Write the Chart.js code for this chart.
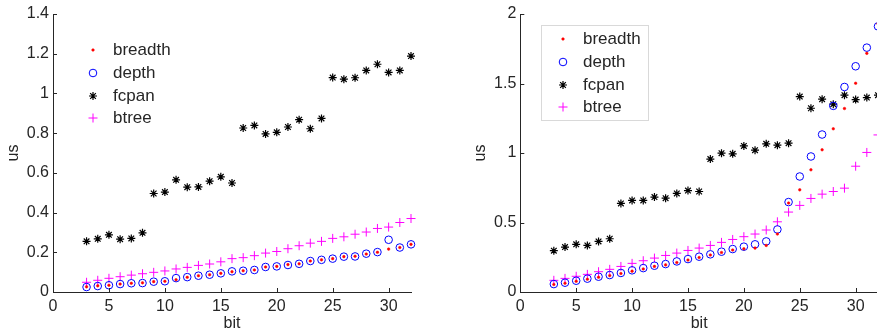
<!DOCTYPE html>
<html lang="en">
<head>
    <meta charset="UTF-8">
    <title>bit vs us</title>
    <script src="https://cdn.jsdelivr.net/npm/chart.js@4.4.0/dist/chart.umd.min.js"></script>
    <style>
        body {
            margin: 0;
            background: #fff;
            overflow: hidden;
            width: 877px;
            height: 333px;
            position: relative;
        }
        .panel {
            position: absolute;
            top: 0;
            height: 333px;
        }
        #leftPanel { left: 0; width: 440px; }
        #rightPanel { left: 440px; width: 460px; }
    </style>
</head>
<body>
    <div class="panel" id="leftPanel"><canvas id="leftChart"></canvas></div>
    <div class="panel" id="rightPanel"><canvas id="rightChart"></canvas></div>

    <script>
        const bits = [3, 4, 5, 6, 7, 8, 9, 10, 11, 12, 13, 14, 15, 16, 17, 18, 19, 20,
                      21, 22, 23, 24, 25, 26, 27, 28, 29, 30, 31, 32];
        const seriesNames = ['breadth', 'depth', 'fcpan', 'btree'];

        // left panel
        const leftBreadth = [0.026, 0.031, 0.034, 0.040, 0.044, 0.046, 0.052, 0.054, 0.062, 0.074,
                             0.082, 0.087, 0.094, 0.102, 0.107, 0.111, 0.126, 0.129, 0.138, 0.142,
                             0.156, 0.162, 0.168, 0.178, 0.180, 0.191, 0.200, 0.216, 0.224, 0.240];
        const leftDepth = [0.025, 0.030, 0.034, 0.040, 0.044, 0.045, 0.052, 0.054, 0.070, 0.075,
                           0.082, 0.087, 0.094, 0.104, 0.107, 0.111, 0.126, 0.129, 0.136, 0.142,
                           0.156, 0.162, 0.168, 0.178, 0.179, 0.193, 0.201, 0.263, 0.224, 0.240];
        const leftFcpan = [0.255, 0.268, 0.288, 0.266, 0.270, 0.298, 0.496, 0.503, 0.565, 0.528,
                           0.529, 0.558, 0.580, 0.549, 0.826, 0.839, 0.796, 0.804, 0.831, 0.868,
                           0.822, 0.874, 1.080, 1.072, 1.079, 1.116, 1.147, 1.106, 1.116, 1.188];
        const leftBtree = [0.049, 0.059, 0.069, 0.077, 0.085, 0.092, 0.099, 0.106, 0.116, 0.124,
                           0.134, 0.141, 0.152, 0.168, 0.173, 0.183, 0.196, 0.204, 0.218, 0.233,
                           0.246, 0.255, 0.270, 0.278, 0.291, 0.302, 0.320, 0.327, 0.350, 0.370];
        const leftTicks = [0, 0.2, 0.4, 0.6, 0.8, 1, 1.2, 1.4];

        // right panel
        const rightBreadth = [0.054, 0.063, 0.077, 0.092, 0.106, 0.118, 0.133, 0.150, 0.166, 0.184,
                              0.195, 0.212, 0.230, 0.248, 0.266, 0.284, 0.302, 0.311, 0.316, 0.335,
                              0.417, 0.640, 0.735, 0.879, 1.023, 1.174, 1.320, 1.502, 1.717, 1.930];
        const rightDepth = [0.057, 0.067, 0.081, 0.096, 0.110, 0.122, 0.137, 0.156, 0.172, 0.189,
                            0.201, 0.220, 0.237, 0.254, 0.271, 0.290, 0.309, 0.326, 0.343, 0.364,
                            0.450, 0.647, 0.831, 0.975, 1.133, 1.339, 1.475, 1.624, 1.758, 1.911];
        const rightFcpan = [0.297, 0.323, 0.343, 0.335, 0.364, 0.383, 0.637, 0.659, 0.659, 0.683,
                            0.675, 0.709, 0.730, 0.723, 0.956, 0.999, 0.994, 1.051, 1.020, 1.066,
                            1.056, 1.071, 1.406, 1.322, 1.387, 1.351, 1.416, 1.384, 1.399, 1.416];
        const rightBtree = [0.084, 0.098, 0.113, 0.127, 0.146, 0.163, 0.184, 0.206, 0.225, 0.244,
                            0.263, 0.280, 0.299, 0.316, 0.335, 0.357, 0.378, 0.398, 0.417, 0.446,
                            0.505, 0.575, 0.623, 0.673, 0.704, 0.723, 0.747, 0.905, 1.004, 1.130];
        const rightTicks = [0, 0.5, 1, 1.5, 2];

        const xTicks = [0, 5, 10, 15, 20, 25, 30];
        const textColor = '#262626';
        const fontFamily = '"Liberation Sans", Arial, Helvetica, sans-serif';

        // marker look for each series (MATLAB '.', 'o', '*', '+')
        const markers = [
            { pointStyle: 'circle', radius: 1.3, color: '#ff0000', fill: '#ff0000', borderWidth: 0.5 },
            { pointStyle: 'circle', radius: 3.8, color: '#0000ff', fill: 'rgba(0,0,0,0)', borderWidth: 1 },
            { pointStyle: 'star', radius: 4, color: '#000000', fill: '#000000', borderWidth: 1.2 },
            { pointStyle: 'cross', radius: 4.5, color: '#ff00ff', fill: '#ff00ff', borderWidth: 1 }
        ];

        function makeDatasets(values) {
            return values.map((vals, i) => ({
                label: seriesNames[i],
                data: bits.map((b, j) => ({ x: b, y: vals[j] })),
                showLine: false,
                pointStyle: markers[i].pointStyle,
                pointRadius: markers[i].radius,
                pointHoverRadius: markers[i].radius,
                pointBorderWidth: markers[i].borderWidth,
                borderColor: markers[i].color,
                backgroundColor: markers[i].fill,
                clip: false
            }));
        }

        // inward tick marks like MATLAB
        const innerTicks = {
            id: 'innerTicks',
            afterDraw(chart) {
                const ctx = chart.ctx;
                const x = chart.scales.x, y = chart.scales.y;
                ctx.save();
                ctx.strokeStyle = textColor;
                ctx.lineWidth = 1;
                ctx.beginPath();
                x.ticks.forEach(t => {
                    const px = Math.round(x.getPixelForValue(t.value)) + 0.5;
                    ctx.moveTo(px, y.bottom);
                    ctx.lineTo(px, y.bottom - 4);
                });
                y.ticks.forEach(t => {
                    const py = Math.round(y.getPixelForValue(t.value)) + 0.5;
                    ctx.moveTo(x.left, py);
                    ctx.lineTo(x.left + 4, py);
                });
                ctx.stroke();
                ctx.restore();
            }
        };

        // legend drawn inside the axes
        const innerLegend = {
            id: 'innerLegend',
            afterDraw(chart, args, opts) {
                const ctx = chart.ctx;
                ctx.save();
                if (opts.box) {
                    ctx.strokeStyle = '#d9d9d9';
                    ctx.lineWidth = 1;
                    ctx.fillStyle = '#ffffff';
                    ctx.fillRect(opts.box[0], opts.box[1], opts.box[2], opts.box[3]);
                    ctx.strokeRect(opts.box[0] + 0.5, opts.box[1] + 0.5, opts.box[2], opts.box[3]);
                }
                seriesNames.forEach((name, i) => {
                    const m = markers[i];
                    const yy = opts.rows[i];
                    ctx.strokeStyle = m.color;
                    ctx.fillStyle = m.fill;
                    ctx.lineWidth = m.borderWidth;
                    Chart.helpers.drawPoint(ctx, {
                        pointStyle: m.pointStyle, radius: m.radius, rotation: 0, borderWidth: m.borderWidth
                    }, opts.markerX, yy);
                    ctx.fillStyle = textColor;
                    ctx.font = '17px ' + fontFamily;
                    ctx.textBaseline = 'middle';
                    ctx.textAlign = 'left';
                    ctx.fillText(name, opts.textX, yy);
                });
                ctx.restore();
            }
        };

        function makeOptions(yMax, yTicks, padLeft, axisWidth, legendOpts) {
            return {
                responsive: true,
                maintainAspectRatio: false,
                animation: false,
                events: [],
                layout: { padding: { left: padLeft, top: 14, right: legendOpts.padRight, bottom: 0 } },
                plugins: {
                    legend: { display: false },
                    tooltip: { enabled: false },
                    innerLegend: legendOpts
                },
                scales: {
                    x: {
                        type: 'linear',
                        min: 0,
                        max: 32,
                        afterFit: s => { s.height = 41; },
                        afterBuildTicks: s => { s.ticks = xTicks.map(v => ({ value: v })); },
                        grid: { display: true, drawOnChartArea: false, drawTicks: false },
                        border: { display: true, color: textColor, width: 1 },
                        ticks: { color: textColor, padding: 5, font: { size: 16, family: fontFamily },
                                 maxRotation: 0, callback: v => String(v) },
                        title: { display: true, text: 'bit', color: textColor, padding: { top: 0, bottom: 0 },
                                 font: { size: 16, family: fontFamily } }
                    },
                    y: {
                        min: 0,
                        max: yMax,
                        afterFit: s => { s.width = axisWidth; },
                        afterBuildTicks: s => { s.ticks = yTicks.map(v => ({ value: v })); },
                        grid: { display: true, drawOnChartArea: false, drawTicks: false },
                        border: { display: true, color: textColor, width: 1 },
                        ticks: { color: textColor, padding: 4, font: { size: 16, family: fontFamily },
                                 callback: v => String(v) },
                        title: { display: true, text: 'us', color: textColor, padding: { top: 4, bottom: 0 },
                                 font: { size: 16, family: fontFamily } }
                    }
                }
            };
        }

        new Chart(document.getElementById('leftChart'), {
            type: 'scatter',
            data: { datasets: makeDatasets([leftBreadth, leftDepth, leftFcpan, leftBtree]) },
            options: makeOptions(1.4, leftTicks, 0, 53, {
                padRight: 29, markerX: 93, textX: 113, rows: [50, 73, 96, 118], box: null
            }),
            plugins: [innerTicks, innerLegend]
        });

        new Chart(document.getElementById('rightChart'), {
            type: 'scatter',
            data: { datasets: makeDatasets([rightBreadth, rightDepth, rightFcpan, rightBtree]) },
            options: makeOptions(2, rightTicks, 27, 53.3, {
                padRight: 22, markerX: 123, textX: 143, rows: [39, 62, 85, 107], box: [101, 25, 107, 95]
            }),
            plugins: [innerTicks, innerLegend]
        });
    </script>
</body>
</html>
